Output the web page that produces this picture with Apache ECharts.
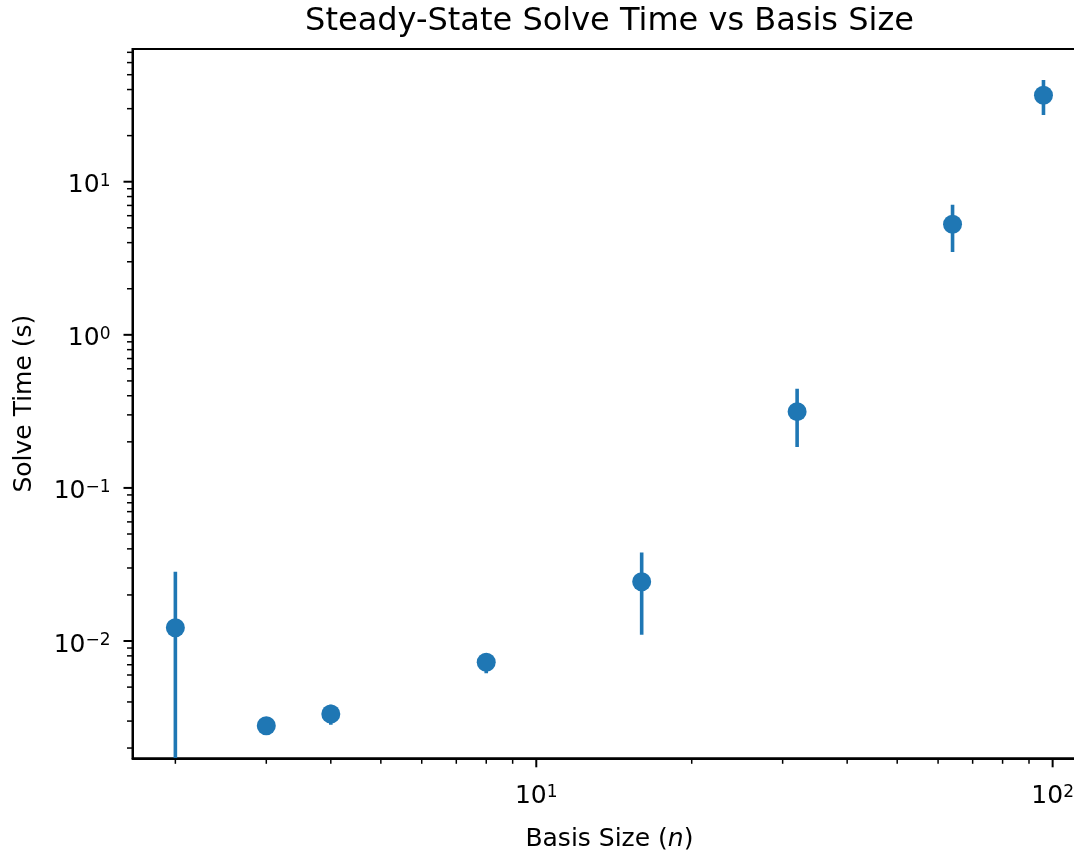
<!DOCTYPE html>
<html>
<head>
<meta charset="utf-8">
<script src="https://cdn.jsdelivr.net/npm/echarts@6/dist/echarts.min.js"></script>
<style>
  html, body { margin: 0; padding: 0; background: #ffffff; }
  #chart { width: 1074px; height: 854px; }
</style>
</head>
<body>
<div id="chart"></div>
<script>
// Solve-time benchmark: mean and standard deviation per basis size
const basisSizes    = [2, 3, 4, 8, 16, 32, 64, 96];
const solveTimeMean = [0.0122, 0.0028, 0.00334, 0.00726, 0.0244, 0.315, 5.28, 36.7];
const solveTimeStd  = [0.0161, 0.00008, 0.0005, 0.0011, 0.0134, 0.13, 1.8, 9.4];

// Axis ranges and tick positions (log scale)
const xRange = [1.652, 116.2];
const yRange = [0.001714, 73.6];
const xMajorTicks = [10, 100];
const yMajorTicks = [0.01, 0.1, 1, 10];
const xDecades = [1, 10, 100];
const yDecades = [0.001, 0.01, 0.1, 1, 10];
const minorMultipliers = [2, 3, 4, 5, 6, 7, 8, 9];

const FONT = 'DejaVu Sans';
const BLUE = '#1f77b4';

function inRange(v, r) { return v >= r[0] && v <= r[1]; }

function tickList(majors, decades, range) {
  const out = [];
  majors.forEach(v => { if (inRange(v, range)) out.push({ v: v, major: 1 }); });
  decades.forEach(d => minorMultipliers.forEach(m => {
    const v = d * m;
    if (inRange(v, range)) out.push({ v: v, major: 0 });
  }));
  return out;
}

const xTicks = tickList(xMajorTicks, xDecades, xRange);
const yTicks = tickList(yMajorTicks, yDecades, yRange);

// Power-of-ten label as rich text: 10 with a raised exponent
function powLabel(v) {
  const lg = Math.log10(v);
  const e = Math.round(lg);
  if (Math.abs(lg - e) > 1e-6) return '';
  return '{b|10}{s|' + String(e).replace('-', '\u2212') + '}';
}

const labelRich = {
  b: { fontFamily: FONT, fontSize: 25, color: '#000', verticalAlign: 'bottom' },
  s: { fontFamily: FONT, fontSize: 17, color: '#000', verticalAlign: 'top' }
};

const MAJOR_LEN = 9, MINOR_LEN = 5.5;

const chart = echarts.init(document.getElementById('chart'), null, { renderer: 'canvas' });

chart.setOption({
  backgroundColor: '#ffffff',
  animation: false,
  title: {
    text: 'Steady-State Solve Time vs Basis Size',
    left: 609.5,
    top: 6,
    padding: 0,
    textAlign: 'center',
    textStyle: { fontFamily: FONT, fontSize: 32, fontWeight: 'normal', color: '#000' }
  },
  grid: {
    left: 132.5, top: 49, right: -12.3, bottom: 95.7,
    show: true, borderColor: '#000', borderWidth: 2, backgroundColor: 'transparent',
    outerBoundsMode: 'none'
  },
  xAxis: {
    type: 'log',
    logBase: 10,
    min: xRange[0],
    max: xRange[1],
    name: '{r|Basis Size (}{i|n}{r|)}',
    nameLocation: 'middle',
    nameGap: 69,
    nameTextStyle: {
      rich: {
        r: { fontFamily: FONT, fontSize: 25, color: '#000' },
        i: { fontFamily: FONT, fontSize: 25, fontStyle: 'italic', color: '#000' }
      }
    },
    axisLine: { show: true, lineStyle: { color: '#000', width: 2 } },
    axisTick: { show: false },
    minorTick: { show: false },
    splitLine: { show: false },
    axisLabel: {
      margin: 26,
      showMinLabel: false,
      showMaxLabel: false,
      formatter: powLabel,
      rich: labelRich
    }
  },
  yAxis: {
    type: 'log',
    logBase: 10,
    min: yRange[0],
    max: yRange[1],
    name: 'Solve Time (s)',
    nameLocation: 'middle',
    nameGap: 96,
    nameTextStyle: { fontFamily: FONT, fontSize: 25, color: '#000' },
    axisLine: { show: true, lineStyle: { color: '#000', width: 2 } },
    axisTick: { show: false },
    minorTick: { show: false },
    splitLine: { show: false },
    axisLabel: {
      margin: 22,
      padding: [8, 0, 0, 0],
      showMinLabel: false,
      showMaxLabel: false,
      formatter: powLabel,
      rich: labelRich
    }
  },
  series: [
    {
      // vertical error bars, mean ± std, clipped to the plot area
      type: 'custom',
      clip: true,
      z: 2,
      data: basisSizes.map((n, i) => [n, solveTimeMean[i], solveTimeStd[i]]),
      encode: { x: 0, y: 1 },
      renderItem: function (params, api) {
        const x = api.value(0), m = api.value(1), s = api.value(2);
        let lo = m - s;
        if (lo <= 0) lo = yRange[0];
        const p1 = api.coord([x, m + s]);
        const p2 = api.coord([x, lo]);
        return {
          type: 'line',
          shape: { x1: p1[0], y1: p1[1], x2: p2[0], y2: p2[1] },
          style: { stroke: BLUE, lineWidth: 3.6 }
        };
      }
    },
    {
      type: 'scatter',
      z: 3,
      symbol: 'circle',
      symbolSize: 19,
      itemStyle: { color: BLUE, opacity: 1 },
      data: basisSizes.map((n, i) => [n, solveTimeMean[i]])
    },
    {
      // x-axis major and minor tick marks
      type: 'custom',
      clip: false,
      silent: true,
      z: 4,
      data: xTicks.map(t => [t.v, yRange[0], t.major]),
      encode: { x: 0, y: 1 },
      renderItem: function (params, api) {
        const p = api.coord([api.value(0), api.value(1)]);
        const major = api.value(2) === 1;
        return {
          type: 'line',
          shape: { x1: p[0], y1: p[1], x2: p[0], y2: p[1] + (major ? MAJOR_LEN : MINOR_LEN) },
          style: { stroke: '#000', lineWidth: major ? 2 : 1.5 }
        };
      }
    },
    {
      // y-axis major and minor tick marks
      type: 'custom',
      clip: false,
      silent: true,
      z: 4,
      data: yTicks.map(t => [xRange[0], t.v, t.major]),
      encode: { x: 0, y: 1 },
      renderItem: function (params, api) {
        const p = api.coord([api.value(0), api.value(1)]);
        const major = api.value(2) === 1;
        return {
          type: 'line',
          shape: { x1: p[0], y1: p[1], x2: p[0] - (major ? MAJOR_LEN : MINOR_LEN), y2: p[1] },
          style: { stroke: '#000', lineWidth: major ? 2 : 1.5 }
        };
      }
    }
  ]
});
</script>
</body>
</html>
